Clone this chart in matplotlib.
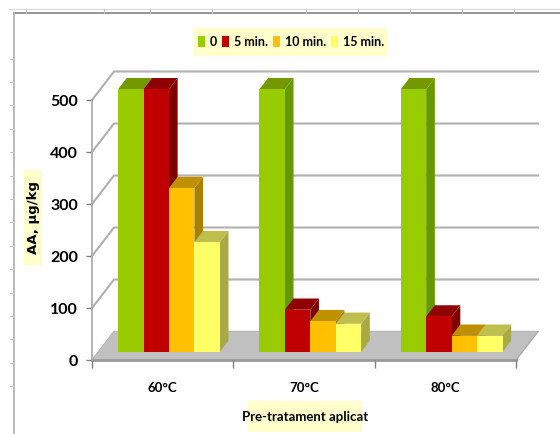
import matplotlib
matplotlib.use('Agg')
import matplotlib.pyplot as plt
from matplotlib.patches import Patch, Polygon, Rectangle

temperatures = ['60°C', '70°C', '80°C']
times = ['0', '5 min.', '10 min.', '15 min.']
aa_0 = [505, 505, 505]
aa_5 = [505, 81, 68]
aa_10 = [315, 59, 31]
aa_15 = [211, 54, 31]
series = [aa_0, aa_5, aa_10, aa_15]
y_ticks = [0, 100, 200, 300, 400, 500]

front_colors = ['#99CC00', '#C00000', '#FFC000', '#FFFF66']
top_colors = ['#739900', '#900000', '#BF9000', '#BFBF4D']
side_colors = ['#669900', '#800000', '#AA8000', '#AAAA44']

W, H = 560, 434
plt.rcParams['font.family'] = ['Lato', 'DejaVu Sans']
plt.rcParams['font.weight'] = 'bold'

fig = plt.figure(figsize=(W / 100, H / 100), dpi=100)

# worksheet frame with its ruler ticks
bg = fig.add_axes([0, 0, 1, 1])
bg.set_xlim(0, W)
bg.set_ylim(H, 0)
bg.axis('off')
bg.plot([9, W], [9, 9], color='#DDDDDD', lw=1)
bg.plot([14, W], [13, 13], color='#8C8C8C', lw=1.3)
bg.plot([14, 14], [13, H], color='#B5B5B5', lw=1.3)
for k in range(15):
    bg.plot([10, 14], [58.5 + k * 23.4] * 2, color='#C4C4C4', lw=0.8)
for px in [26, 104, 150, 212, 306, 358, 410, 462, 514]:
    bg.plot([px, px], [9, 13], color='#C4C4C4', lw=0.8)

# front plane of the 3D box
x_left, x_right, y_zero, y_500 = 92, 516, 360, 100
ax = fig.add_axes([x_left / W, 1 - y_zero / H, (x_right - x_left) / W, (y_zero - y_500) / H])
ax.set_xlim(0, 3)
ax.set_ylim(0, 500)
ax.patch.set_visible(False)

depth_x = 22 / ((x_right - x_left) / 3)
depth_y = 28.5 / ((y_zero - y_500) / 500)


def project(x, v, d):
    return x + d * depth_x, v + d * depth_y


def face(points, color, z):
    ax.add_patch(Polygon([project(*p) for p in points], closed=True, facecolor=color,
                         edgecolor='none', clip_on=False, zorder=z))


face([(0, 0, 0), (3, 0, 0), (3, 0, 1), (0, 0, 1)], '#C0C0C0', 1)

for v in y_ticks:
    xs, ys = zip(project(0, v, 0), project(0, v, 1), project(3, v, 1))
    ax.plot(xs, ys, color='#B0B0B0', lw=1.5 if v else 1.0, clip_on=False, zorder=0.5,
            solid_joinstyle='miter')
xs, ys = zip(project(3, 0, 0), project(3, 0, 1))
ax.plot(xs, ys, color='#A8A8A8', lw=1, clip_on=False, zorder=1.5)
ax.plot([0, 3], [0, 0], color='#9A9A9A', lw=2, clip_on=False, zorder=1.5)

# bars stand inside the box, from d0 to d1 along its depth
d0, d1 = 0.286, 0.68
group_gap = 0.14
bar_w = (1 - 2 * group_gap) / len(series)
z = 2
for c in range(len(temperatures)):
    for s, values in enumerate(series):
        v = values[c]
        x0 = c + group_gap + s * bar_w
        x1 = x0 + bar_w
        face([(x1, 0, d0), (x1, 0, d1), (x1, v, d1), (x1, v, d0)], side_colors[s], z)
        face([(x0, v, d0), (x1, v, d0), (x1, v, d1), (x0, v, d1)], top_colors[s], z)
        face([(x0, 0, d0), (x1, 0, d0), (x1, v, d0), (x0, v, d0)], front_colors[s], z)
        z += 1

for name in ['top', 'right', 'bottom']:
    ax.spines[name].set_visible(False)
ax.spines['left'].set_color('#A8A8A8')
ax.spines['left'].set_linewidth(1.2)

ax.set_yticks(y_ticks)
ax.tick_params(axis='y', length=4, width=1, color='#808080', pad=6, labelsize=11.5)
ax.set_xticks([0, 1, 2, 3])
ax.set_xticklabels([])
ax.tick_params(axis='x', length=6, width=1, color='#808080')
ax.set_xticks([0.5, 1.5, 2.5], labels=temperatures, minor=True)
ax.tick_params(axis='x', which='minor', length=0, pad=16, labelsize=9.5)

# axis titles and legend sit on pale yellow boxes
bg.add_patch(Rectangle((24, 170), 18, 95, facecolor='#FFFFCC', edgecolor='none'))
bg.add_patch(Rectangle((248, 401), 114, 31, facecolor='#FFFFCC', edgecolor='none'))
bg.add_patch(Rectangle((193.5, 28), 193.5, 28, facecolor='#FFFFCC', edgecolor='none'))
bg.text(34, 217, 'AA, µg/kg', rotation=90, ha='center', va='center', fontsize=9.5,
        family='DejaVu Sans', color='black')
bg.text(305, 417, 'Pre-tratament aplicat', ha='center', va='center', fontsize=9.5, color='black')

handles = [Patch(facecolor=c, edgecolor='none') for c in front_colors]
fig.legend(handles, times, ncol=4, loc='center', bbox_to_anchor=(291 / W, 1 - 42 / H),
           frameon=False, fontsize=9, handlelength=0.55, handleheight=1.0, handletextpad=0.4,
           columnspacing=0.4, borderpad=0)

fig.savefig('out.png', dpi=100)
